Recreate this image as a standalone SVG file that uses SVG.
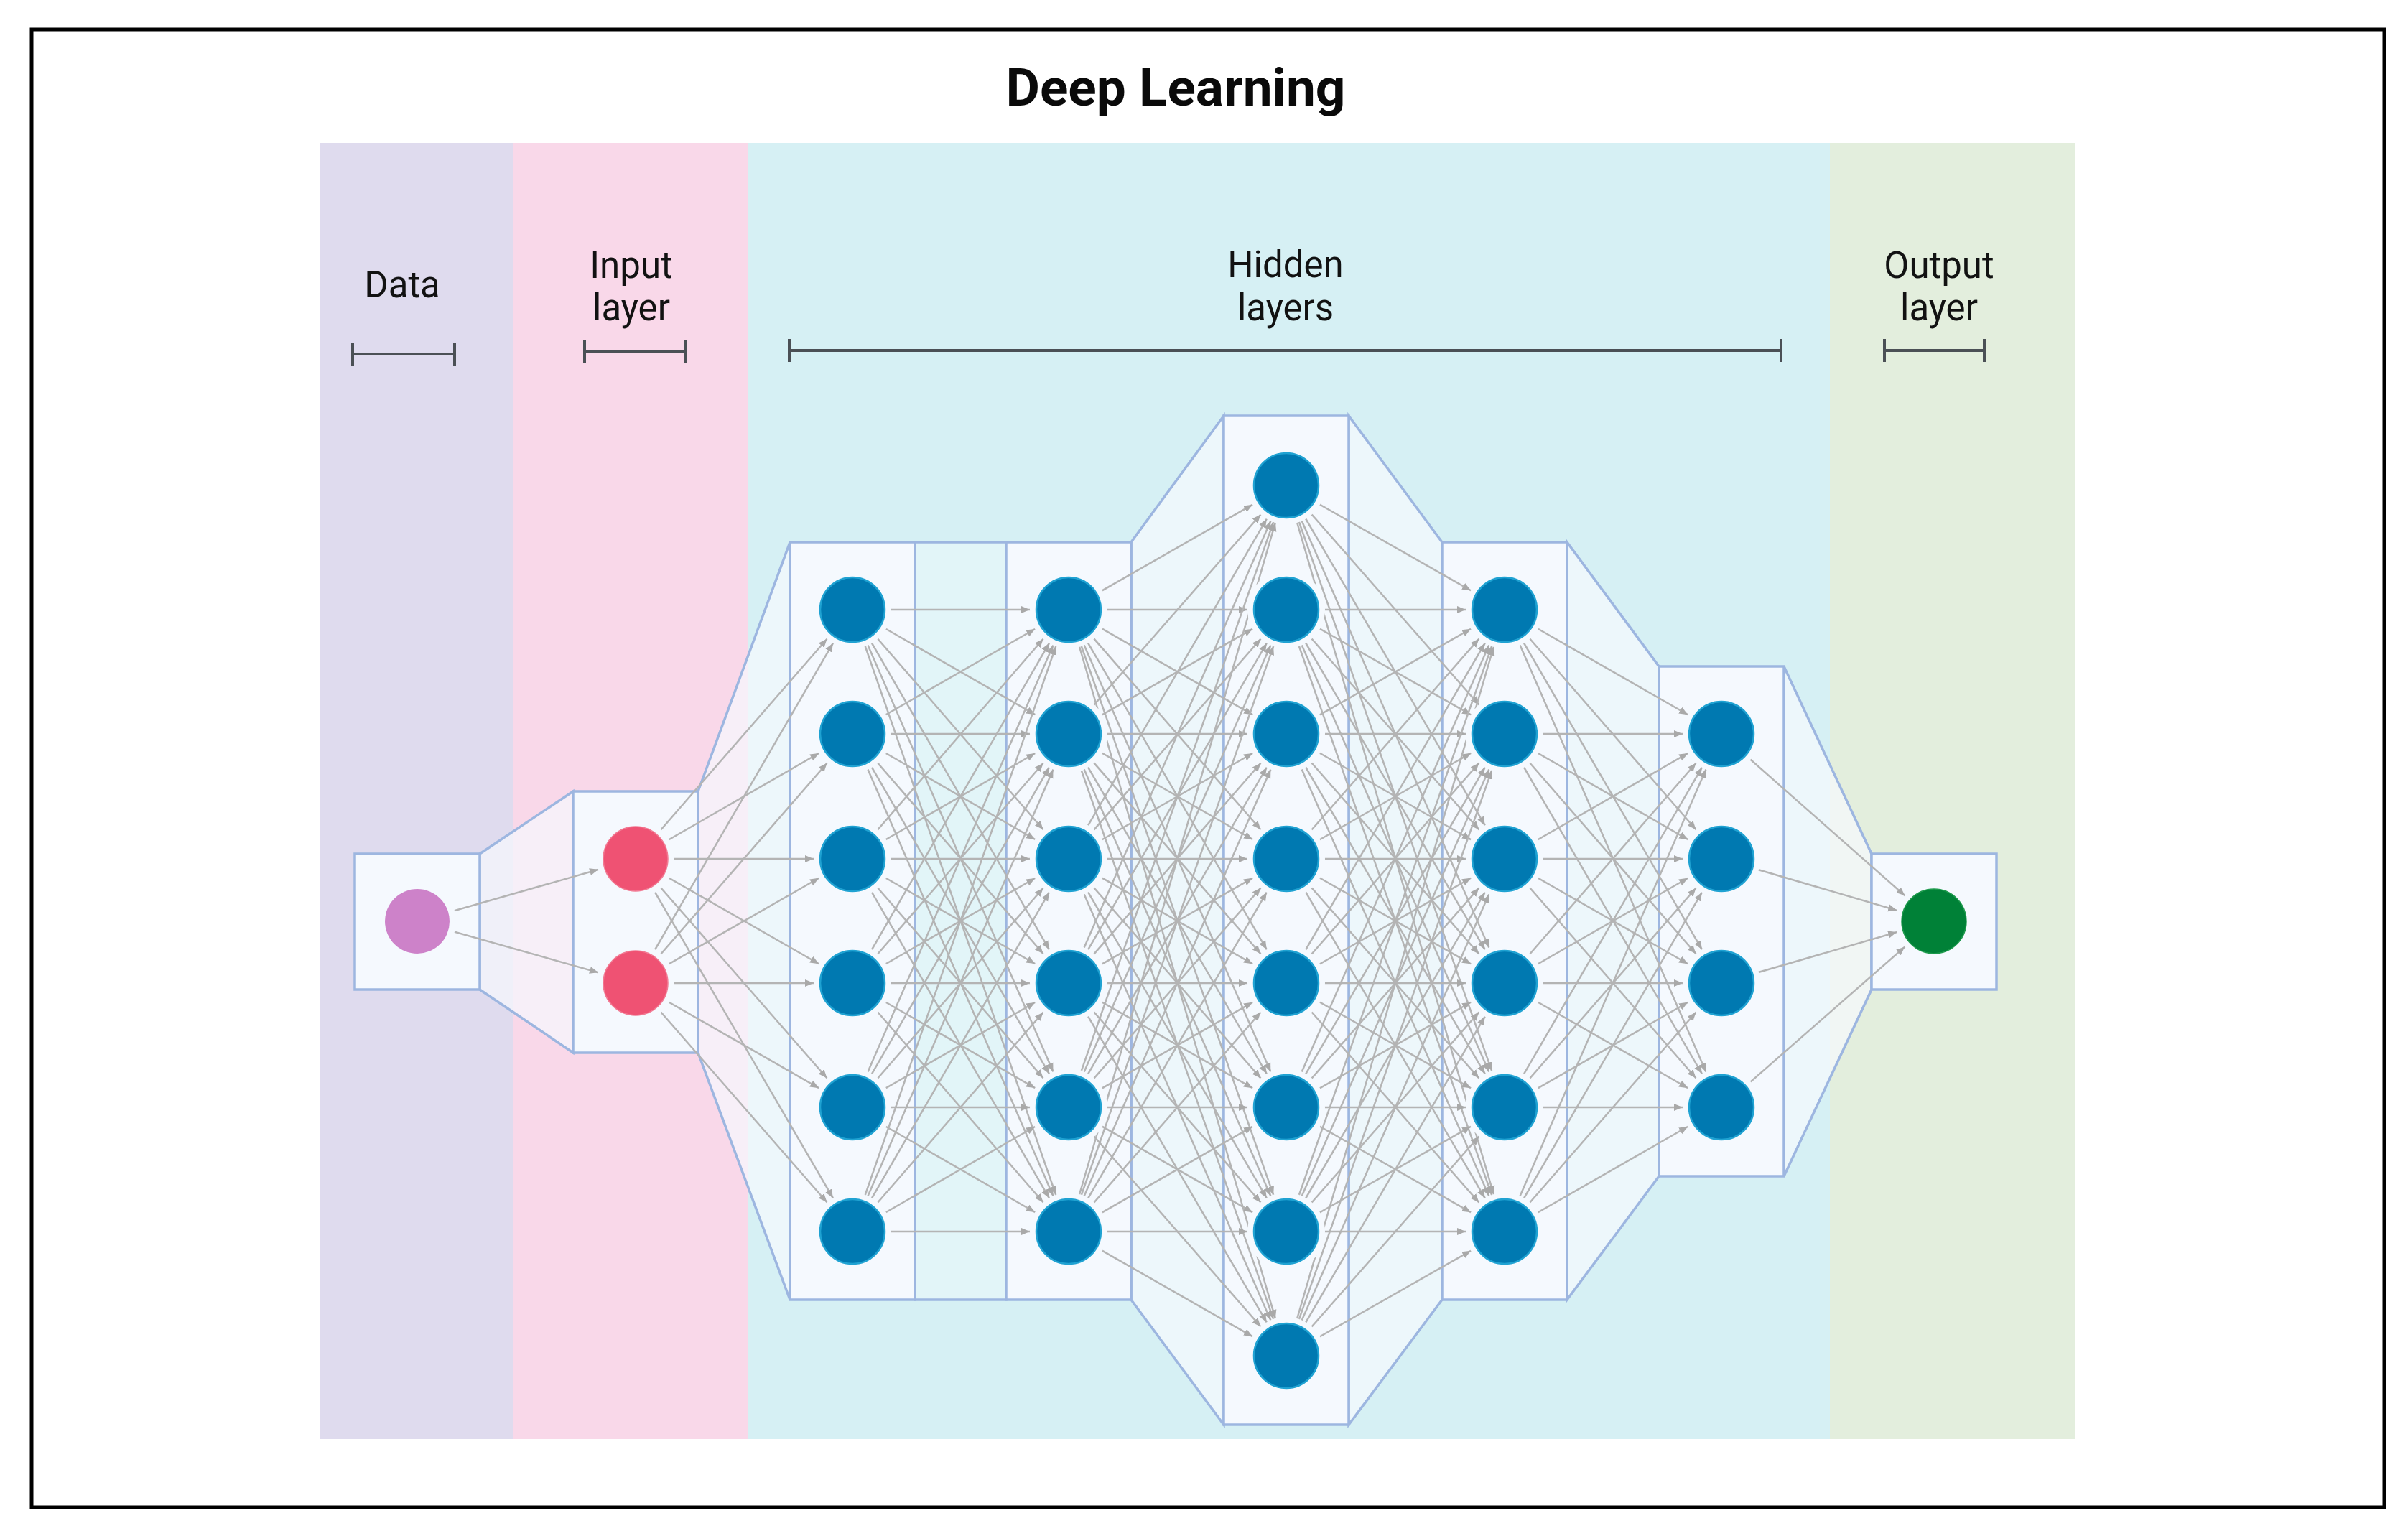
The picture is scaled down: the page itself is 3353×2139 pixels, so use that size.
<svg xmlns="http://www.w3.org/2000/svg" width="3353" height="2139" viewBox="0 0 3353 2139">
<defs>
<style>
.box{fill:#f5f9fe;stroke:#9db6e0;stroke-width:3.5}
.link{fill:#f7fafe;fill-opacity:0.7;stroke:#9db6e0;stroke-width:3.5}
.strip{fill:#f2fbfd;fill-opacity:0.45;stroke:#9db6e0;stroke-width:3.5}
.lbl{font-family:Roboto,"Liberation Sans",sans-serif;font-size:51px;fill:#121212;text-anchor:middle}
.title{font-family:Roboto,"Liberation Sans",sans-serif;font-size:73px;font-weight:700;fill:#0a0a0a;text-anchor:middle}
.brk{stroke:#4b5055;stroke-width:4;fill:none}
.c line{stroke:#b4b4b4;stroke-width:2.5;marker-end:url(#arr)}
.halo{fill:#f5f9fe}
.hid{fill:#0079b1;stroke:#1fa2d2;stroke-width:2.5}
.inp{fill:#ef5273;stroke:#f27a93;stroke-width:1.5}
</style>
<marker id="arr" markerUnits="userSpaceOnUse" viewBox="0 0 80 20" markerWidth="80" markerHeight="20" refX="66" refY="10" orient="auto"><path d="M0,5 L12,10 L0,15 Z" fill="#a9a9a9"/></marker>
</defs>
<rect x="0" y="0" width="3353" height="2139" fill="#ffffff"/>
<g id="bands">
<rect x="445" y="199" width="270" height="1805" fill="#dfdbee"/>
<rect x="715" y="199" width="327" height="1805" fill="#f9d8e9"/>
<rect x="1042" y="199" width="1506" height="1805" fill="#d6f0f4"/>
<rect x="2548" y="199" width="342" height="1805" fill="#e3eedd"/>
</g>
<g id="title"><text class="title" x="1637" y="147">Deep Learning</text></g>
<g id="labels">
<text class="lbl" x="560" y="414">Data</text>
<text class="lbl" x="879" y="387">Input</text>
<text class="lbl" x="879" y="446">layer</text>
<text class="lbl" x="1790" y="386">Hidden</text>
<text class="lbl" x="1790" y="446">layers</text>
<text class="lbl" x="2700" y="387">Output</text>
<text class="lbl" x="2700" y="446">layer</text>
</g>
<g id="brackets" class="brk">
<path d="M491,493 H633 M491,477 V509 M633,477 V509"/>
<path d="M814,489 H954 M814,473 V505 M954,473 V505"/>
<path d="M1099,488 H2480 M1099,472 V504 M2480,472 V504"/>
<path d="M2624,488 H2763 M2624,472 V504 M2763,472 V504"/>
</g>
<g id="layer-links">
<polygon class="link" points="668,1189 798,1102 798,1466 668,1378"/>
<polygon class="link" points="972,1102 1100,755 1100,1810 972,1466"/>
<rect class="strip" x="1274" y="755" width="127" height="1055"/>
<polygon class="link" points="1575,755 1704,579 1704,1984 1575,1810"/>
<polygon class="link" points="1878,579 2008,755 2008,1810 1878,1984"/>
<polygon class="link" points="2182,755 2310,928 2310,1638 2182,1810"/>
<polygon class="link" points="2484,928 2606,1189 2606,1378 2484,1638"/>
</g>
<g id="layer-boxes">
<rect id="box-data" class="box" x="494" y="1189" width="174" height="189"/>
<rect id="box-input" class="box" x="798" y="1102" width="174" height="364"/>
<rect id="box-h1" class="box" x="1100" y="755" width="174" height="1055"/>
<rect id="box-h2" class="box" x="1401" y="755" width="174" height="1055"/>
<rect id="box-h3" class="box" x="1704" y="579" width="174" height="1405"/>
<rect id="box-h4" class="box" x="2008" y="755" width="174" height="1055"/>
<rect id="box-h5" class="box" x="2310" y="928" width="174" height="710"/>
<rect id="box-out" class="box" x="2606" y="1189" width="174" height="189"/>
</g>
<g id="connectors" class="c">
<line x1="581" y1="1283" x2="885" y2="1196"/>
<line x1="581" y1="1283" x2="885" y2="1369"/>
<line x1="885" y1="1196" x2="1187" y2="849"/>
<line x1="885" y1="1196" x2="1187" y2="1022"/>
<line x1="885" y1="1196" x2="1187" y2="1196"/>
<line x1="885" y1="1196" x2="1187" y2="1369"/>
<line x1="885" y1="1196" x2="1187" y2="1542"/>
<line x1="885" y1="1196" x2="1187" y2="1715"/>
<line x1="885" y1="1369" x2="1187" y2="849"/>
<line x1="885" y1="1369" x2="1187" y2="1022"/>
<line x1="885" y1="1369" x2="1187" y2="1196"/>
<line x1="885" y1="1369" x2="1187" y2="1369"/>
<line x1="885" y1="1369" x2="1187" y2="1542"/>
<line x1="885" y1="1369" x2="1187" y2="1715"/>
<line x1="1187" y1="849" x2="1488" y2="849"/>
<line x1="1187" y1="849" x2="1488" y2="1022"/>
<line x1="1187" y1="849" x2="1488" y2="1196"/>
<line x1="1187" y1="849" x2="1488" y2="1369"/>
<line x1="1187" y1="849" x2="1488" y2="1542"/>
<line x1="1187" y1="849" x2="1488" y2="1715"/>
<line x1="1187" y1="1022" x2="1488" y2="849"/>
<line x1="1187" y1="1022" x2="1488" y2="1022"/>
<line x1="1187" y1="1022" x2="1488" y2="1196"/>
<line x1="1187" y1="1022" x2="1488" y2="1369"/>
<line x1="1187" y1="1022" x2="1488" y2="1542"/>
<line x1="1187" y1="1022" x2="1488" y2="1715"/>
<line x1="1187" y1="1196" x2="1488" y2="849"/>
<line x1="1187" y1="1196" x2="1488" y2="1022"/>
<line x1="1187" y1="1196" x2="1488" y2="1196"/>
<line x1="1187" y1="1196" x2="1488" y2="1369"/>
<line x1="1187" y1="1196" x2="1488" y2="1542"/>
<line x1="1187" y1="1196" x2="1488" y2="1715"/>
<line x1="1187" y1="1369" x2="1488" y2="849"/>
<line x1="1187" y1="1369" x2="1488" y2="1022"/>
<line x1="1187" y1="1369" x2="1488" y2="1196"/>
<line x1="1187" y1="1369" x2="1488" y2="1369"/>
<line x1="1187" y1="1369" x2="1488" y2="1542"/>
<line x1="1187" y1="1369" x2="1488" y2="1715"/>
<line x1="1187" y1="1542" x2="1488" y2="849"/>
<line x1="1187" y1="1542" x2="1488" y2="1022"/>
<line x1="1187" y1="1542" x2="1488" y2="1196"/>
<line x1="1187" y1="1542" x2="1488" y2="1369"/>
<line x1="1187" y1="1542" x2="1488" y2="1542"/>
<line x1="1187" y1="1542" x2="1488" y2="1715"/>
<line x1="1187" y1="1715" x2="1488" y2="849"/>
<line x1="1187" y1="1715" x2="1488" y2="1022"/>
<line x1="1187" y1="1715" x2="1488" y2="1196"/>
<line x1="1187" y1="1715" x2="1488" y2="1369"/>
<line x1="1187" y1="1715" x2="1488" y2="1542"/>
<line x1="1187" y1="1715" x2="1488" y2="1715"/>
<line x1="1488" y1="849" x2="1791" y2="676"/>
<line x1="1488" y1="849" x2="1791" y2="849"/>
<line x1="1488" y1="849" x2="1791" y2="1022"/>
<line x1="1488" y1="849" x2="1791" y2="1196"/>
<line x1="1488" y1="849" x2="1791" y2="1369"/>
<line x1="1488" y1="849" x2="1791" y2="1542"/>
<line x1="1488" y1="849" x2="1791" y2="1715"/>
<line x1="1488" y1="849" x2="1791" y2="1888"/>
<line x1="1488" y1="1022" x2="1791" y2="676"/>
<line x1="1488" y1="1022" x2="1791" y2="849"/>
<line x1="1488" y1="1022" x2="1791" y2="1022"/>
<line x1="1488" y1="1022" x2="1791" y2="1196"/>
<line x1="1488" y1="1022" x2="1791" y2="1369"/>
<line x1="1488" y1="1022" x2="1791" y2="1542"/>
<line x1="1488" y1="1022" x2="1791" y2="1715"/>
<line x1="1488" y1="1022" x2="1791" y2="1888"/>
<line x1="1488" y1="1196" x2="1791" y2="676"/>
<line x1="1488" y1="1196" x2="1791" y2="849"/>
<line x1="1488" y1="1196" x2="1791" y2="1022"/>
<line x1="1488" y1="1196" x2="1791" y2="1196"/>
<line x1="1488" y1="1196" x2="1791" y2="1369"/>
<line x1="1488" y1="1196" x2="1791" y2="1542"/>
<line x1="1488" y1="1196" x2="1791" y2="1715"/>
<line x1="1488" y1="1196" x2="1791" y2="1888"/>
<line x1="1488" y1="1369" x2="1791" y2="676"/>
<line x1="1488" y1="1369" x2="1791" y2="849"/>
<line x1="1488" y1="1369" x2="1791" y2="1022"/>
<line x1="1488" y1="1369" x2="1791" y2="1196"/>
<line x1="1488" y1="1369" x2="1791" y2="1369"/>
<line x1="1488" y1="1369" x2="1791" y2="1542"/>
<line x1="1488" y1="1369" x2="1791" y2="1715"/>
<line x1="1488" y1="1369" x2="1791" y2="1888"/>
<line x1="1488" y1="1542" x2="1791" y2="676"/>
<line x1="1488" y1="1542" x2="1791" y2="849"/>
<line x1="1488" y1="1542" x2="1791" y2="1022"/>
<line x1="1488" y1="1542" x2="1791" y2="1196"/>
<line x1="1488" y1="1542" x2="1791" y2="1369"/>
<line x1="1488" y1="1542" x2="1791" y2="1542"/>
<line x1="1488" y1="1542" x2="1791" y2="1715"/>
<line x1="1488" y1="1542" x2="1791" y2="1888"/>
<line x1="1488" y1="1715" x2="1791" y2="676"/>
<line x1="1488" y1="1715" x2="1791" y2="849"/>
<line x1="1488" y1="1715" x2="1791" y2="1022"/>
<line x1="1488" y1="1715" x2="1791" y2="1196"/>
<line x1="1488" y1="1715" x2="1791" y2="1369"/>
<line x1="1488" y1="1715" x2="1791" y2="1542"/>
<line x1="1488" y1="1715" x2="1791" y2="1715"/>
<line x1="1488" y1="1715" x2="1791" y2="1888"/>
<line x1="1791" y1="676" x2="2095" y2="849"/>
<line x1="1791" y1="676" x2="2095" y2="1022"/>
<line x1="1791" y1="676" x2="2095" y2="1196"/>
<line x1="1791" y1="676" x2="2095" y2="1369"/>
<line x1="1791" y1="676" x2="2095" y2="1542"/>
<line x1="1791" y1="676" x2="2095" y2="1715"/>
<line x1="1791" y1="849" x2="2095" y2="849"/>
<line x1="1791" y1="849" x2="2095" y2="1022"/>
<line x1="1791" y1="849" x2="2095" y2="1196"/>
<line x1="1791" y1="849" x2="2095" y2="1369"/>
<line x1="1791" y1="849" x2="2095" y2="1542"/>
<line x1="1791" y1="849" x2="2095" y2="1715"/>
<line x1="1791" y1="1022" x2="2095" y2="849"/>
<line x1="1791" y1="1022" x2="2095" y2="1022"/>
<line x1="1791" y1="1022" x2="2095" y2="1196"/>
<line x1="1791" y1="1022" x2="2095" y2="1369"/>
<line x1="1791" y1="1022" x2="2095" y2="1542"/>
<line x1="1791" y1="1022" x2="2095" y2="1715"/>
<line x1="1791" y1="1196" x2="2095" y2="849"/>
<line x1="1791" y1="1196" x2="2095" y2="1022"/>
<line x1="1791" y1="1196" x2="2095" y2="1196"/>
<line x1="1791" y1="1196" x2="2095" y2="1369"/>
<line x1="1791" y1="1196" x2="2095" y2="1542"/>
<line x1="1791" y1="1196" x2="2095" y2="1715"/>
<line x1="1791" y1="1369" x2="2095" y2="849"/>
<line x1="1791" y1="1369" x2="2095" y2="1022"/>
<line x1="1791" y1="1369" x2="2095" y2="1196"/>
<line x1="1791" y1="1369" x2="2095" y2="1369"/>
<line x1="1791" y1="1369" x2="2095" y2="1542"/>
<line x1="1791" y1="1369" x2="2095" y2="1715"/>
<line x1="1791" y1="1542" x2="2095" y2="849"/>
<line x1="1791" y1="1542" x2="2095" y2="1022"/>
<line x1="1791" y1="1542" x2="2095" y2="1196"/>
<line x1="1791" y1="1542" x2="2095" y2="1369"/>
<line x1="1791" y1="1542" x2="2095" y2="1542"/>
<line x1="1791" y1="1542" x2="2095" y2="1715"/>
<line x1="1791" y1="1715" x2="2095" y2="849"/>
<line x1="1791" y1="1715" x2="2095" y2="1022"/>
<line x1="1791" y1="1715" x2="2095" y2="1196"/>
<line x1="1791" y1="1715" x2="2095" y2="1369"/>
<line x1="1791" y1="1715" x2="2095" y2="1542"/>
<line x1="1791" y1="1715" x2="2095" y2="1715"/>
<line x1="1791" y1="1888" x2="2095" y2="849"/>
<line x1="1791" y1="1888" x2="2095" y2="1022"/>
<line x1="1791" y1="1888" x2="2095" y2="1196"/>
<line x1="1791" y1="1888" x2="2095" y2="1369"/>
<line x1="1791" y1="1888" x2="2095" y2="1542"/>
<line x1="1791" y1="1888" x2="2095" y2="1715"/>
<line x1="2095" y1="849" x2="2397" y2="1022"/>
<line x1="2095" y1="849" x2="2397" y2="1196"/>
<line x1="2095" y1="849" x2="2397" y2="1369"/>
<line x1="2095" y1="849" x2="2397" y2="1542"/>
<line x1="2095" y1="1022" x2="2397" y2="1022"/>
<line x1="2095" y1="1022" x2="2397" y2="1196"/>
<line x1="2095" y1="1022" x2="2397" y2="1369"/>
<line x1="2095" y1="1022" x2="2397" y2="1542"/>
<line x1="2095" y1="1196" x2="2397" y2="1022"/>
<line x1="2095" y1="1196" x2="2397" y2="1196"/>
<line x1="2095" y1="1196" x2="2397" y2="1369"/>
<line x1="2095" y1="1196" x2="2397" y2="1542"/>
<line x1="2095" y1="1369" x2="2397" y2="1022"/>
<line x1="2095" y1="1369" x2="2397" y2="1196"/>
<line x1="2095" y1="1369" x2="2397" y2="1369"/>
<line x1="2095" y1="1369" x2="2397" y2="1542"/>
<line x1="2095" y1="1542" x2="2397" y2="1022"/>
<line x1="2095" y1="1542" x2="2397" y2="1196"/>
<line x1="2095" y1="1542" x2="2397" y2="1369"/>
<line x1="2095" y1="1542" x2="2397" y2="1542"/>
<line x1="2095" y1="1715" x2="2397" y2="1022"/>
<line x1="2095" y1="1715" x2="2397" y2="1196"/>
<line x1="2095" y1="1715" x2="2397" y2="1369"/>
<line x1="2095" y1="1715" x2="2397" y2="1542"/>
<line x1="2397" y1="1022" x2="2693" y2="1283"/>
<line x1="2397" y1="1196" x2="2693" y2="1283"/>
<line x1="2397" y1="1369" x2="2693" y2="1283"/>
<line x1="2397" y1="1542" x2="2693" y2="1283"/>
</g>
<g id="n-data"><circle class="halo" cx="581" cy="1283" r="54"/><circle cx="581" cy="1283" r="45" fill="#cd82c9"/></g>
<g id="n-in-1"><circle class="halo" cx="885" cy="1196" r="54"/><circle class="inp" cx="885" cy="1196" r="45"/></g>
<g id="n-in-2"><circle class="halo" cx="885" cy="1369" r="54"/><circle class="inp" cx="885" cy="1369" r="45"/></g>
<g id="n-h1-1"><circle class="halo" cx="1187" cy="849" r="54"/><circle class="hid" cx="1187" cy="849" r="45"/></g>
<g id="n-h1-2"><circle class="halo" cx="1187" cy="1022" r="54"/><circle class="hid" cx="1187" cy="1022" r="45"/></g>
<g id="n-h1-3"><circle class="halo" cx="1187" cy="1196" r="54"/><circle class="hid" cx="1187" cy="1196" r="45"/></g>
<g id="n-h1-4"><circle class="halo" cx="1187" cy="1369" r="54"/><circle class="hid" cx="1187" cy="1369" r="45"/></g>
<g id="n-h1-5"><circle class="halo" cx="1187" cy="1542" r="54"/><circle class="hid" cx="1187" cy="1542" r="45"/></g>
<g id="n-h1-6"><circle class="halo" cx="1187" cy="1715" r="54"/><circle class="hid" cx="1187" cy="1715" r="45"/></g>
<g id="n-h2-1"><circle class="halo" cx="1488" cy="849" r="54"/><circle class="hid" cx="1488" cy="849" r="45"/></g>
<g id="n-h2-2"><circle class="halo" cx="1488" cy="1022" r="54"/><circle class="hid" cx="1488" cy="1022" r="45"/></g>
<g id="n-h2-3"><circle class="halo" cx="1488" cy="1196" r="54"/><circle class="hid" cx="1488" cy="1196" r="45"/></g>
<g id="n-h2-4"><circle class="halo" cx="1488" cy="1369" r="54"/><circle class="hid" cx="1488" cy="1369" r="45"/></g>
<g id="n-h2-5"><circle class="halo" cx="1488" cy="1542" r="54"/><circle class="hid" cx="1488" cy="1542" r="45"/></g>
<g id="n-h2-6"><circle class="halo" cx="1488" cy="1715" r="54"/><circle class="hid" cx="1488" cy="1715" r="45"/></g>
<g id="n-h3-1"><circle class="halo" cx="1791" cy="676" r="54"/><circle class="hid" cx="1791" cy="676" r="45"/></g>
<g id="n-h3-2"><circle class="halo" cx="1791" cy="849" r="54"/><circle class="hid" cx="1791" cy="849" r="45"/></g>
<g id="n-h3-3"><circle class="halo" cx="1791" cy="1022" r="54"/><circle class="hid" cx="1791" cy="1022" r="45"/></g>
<g id="n-h3-4"><circle class="halo" cx="1791" cy="1196" r="54"/><circle class="hid" cx="1791" cy="1196" r="45"/></g>
<g id="n-h3-5"><circle class="halo" cx="1791" cy="1369" r="54"/><circle class="hid" cx="1791" cy="1369" r="45"/></g>
<g id="n-h3-6"><circle class="halo" cx="1791" cy="1542" r="54"/><circle class="hid" cx="1791" cy="1542" r="45"/></g>
<g id="n-h3-7"><circle class="halo" cx="1791" cy="1715" r="54"/><circle class="hid" cx="1791" cy="1715" r="45"/></g>
<g id="n-h3-8"><circle class="halo" cx="1791" cy="1888" r="54"/><circle class="hid" cx="1791" cy="1888" r="45"/></g>
<g id="n-h4-1"><circle class="halo" cx="2095" cy="849" r="54"/><circle class="hid" cx="2095" cy="849" r="45"/></g>
<g id="n-h4-2"><circle class="halo" cx="2095" cy="1022" r="54"/><circle class="hid" cx="2095" cy="1022" r="45"/></g>
<g id="n-h4-3"><circle class="halo" cx="2095" cy="1196" r="54"/><circle class="hid" cx="2095" cy="1196" r="45"/></g>
<g id="n-h4-4"><circle class="halo" cx="2095" cy="1369" r="54"/><circle class="hid" cx="2095" cy="1369" r="45"/></g>
<g id="n-h4-5"><circle class="halo" cx="2095" cy="1542" r="54"/><circle class="hid" cx="2095" cy="1542" r="45"/></g>
<g id="n-h4-6"><circle class="halo" cx="2095" cy="1715" r="54"/><circle class="hid" cx="2095" cy="1715" r="45"/></g>
<g id="n-h5-1"><circle class="halo" cx="2397" cy="1022" r="54"/><circle class="hid" cx="2397" cy="1022" r="45"/></g>
<g id="n-h5-2"><circle class="halo" cx="2397" cy="1196" r="54"/><circle class="hid" cx="2397" cy="1196" r="45"/></g>
<g id="n-h5-3"><circle class="halo" cx="2397" cy="1369" r="54"/><circle class="hid" cx="2397" cy="1369" r="45"/></g>
<g id="n-h5-4"><circle class="halo" cx="2397" cy="1542" r="54"/><circle class="hid" cx="2397" cy="1542" r="45"/></g>
<g id="n-out"><circle class="halo" cx="2693" cy="1283" r="54"/><circle cx="2693" cy="1283" r="45" fill="#008137" stroke="#1d9a4c" stroke-width="1.5"/></g>
<rect id="frame" x="44" y="41" width="3276" height="2058" fill="none" stroke="#000000" stroke-width="5"/>
</svg>
